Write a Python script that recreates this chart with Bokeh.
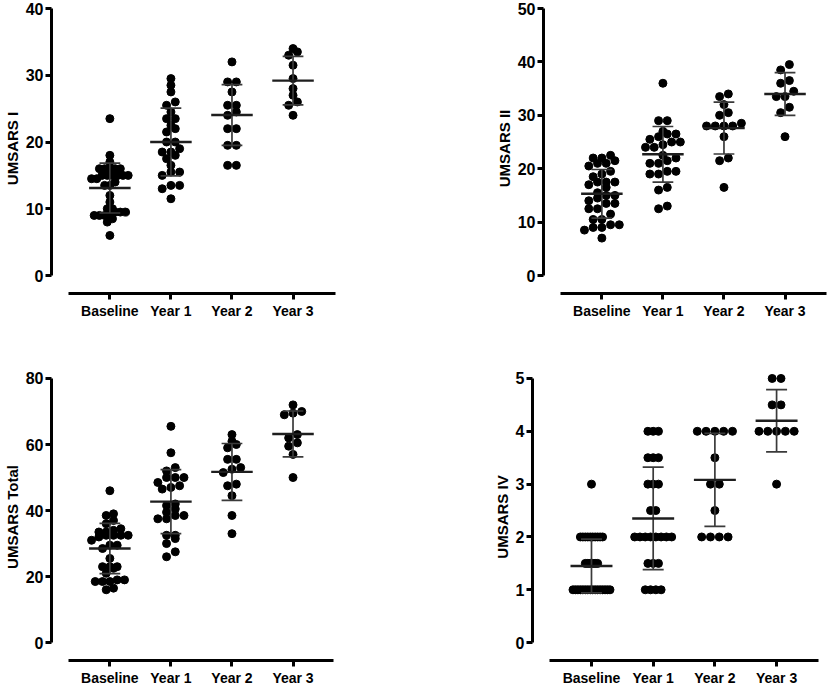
import numpy as np
from bokeh.plotting import figure
from bokeh.layouts import row, column
from bokeh.models import FixedTicker
from bokeh.embed import file_html
from bokeh.resources import INLINE

# ---------------- data ----------------
categories = ["Baseline", "Year 1", "Year 2", "Year 3"]

umsars1_baseline = [23.5, 18, 17, 16, 16, 16, 16, 16, 15, 15, 15, 15, 15, 15, 14.5, 14.5, 14,
                    13.5, 13.5, 12, 11, 10, 10, 9.5, 9.5, 9.5, 9, 9, 9, 9, 8.5, 8, 6]
umsars1_year1 = [29.5, 28.5, 27.5, 26, 25.5, 24.5, 23.5, 23.5, 22.5, 22, 21.5, 20, 20, 19, 18.5,
                 18.5, 18, 17.5, 16.5, 15.5, 15.5, 15, 13.5, 13.5, 13, 11.5]
umsars1_year2 = [32, 29, 29, 27.5, 25.5, 25.5, 24.5, 24, 22, 22, 19.5, 19.5, 16.5, 16.5]
umsars1_year3 = [34, 33.5, 33, 31.5, 29.5, 28, 27, 26, 25.5, 24]
umsars1_mean = [13.1, 20.0, 24.05, 29.2]
umsars1_sd = [3.74, 5.06, 4.55, 3.64]

umsars2_baseline = [22.5, 22, 22, 21.5, 21, 21, 20.5, 19.5, 19, 18.5, 17.5, 17.5, 17.5, 17, 16.5,
                    15.5, 15, 15, 14.5, 14, 13.5, 13.5, 12.5, 12.5, 11.5, 10.5, 10.5, 9.5, 9.5,
                    9, 9, 8.5, 7]
umsars2_year1 = [36, 29, 29, 27, 26.5, 26.5, 26, 25.5, 25, 25, 24.5, 24, 24, 22.5, 22, 21.5, 21,
                 21, 19.5, 19.5, 19, 19, 16.5, 16, 13, 12.5]
umsars2_year2 = [34, 33.5, 32, 30.5, 30, 28.5, 28, 28, 28, 28, 26, 22, 21.5, 16.5]
umsars2_year3 = [39.5, 38.5, 36.5, 36, 34.5, 33.5, 33.5, 31.5, 30.5, 26]
umsars2_mean = [15.3, 22.7, 27.6, 34.0]
umsars2_sd = [4.55, 5.2, 4.85, 4.0]

umsars_total_baseline = [46, 39, 38.5, 37, 36, 34.5, 34, 33.5, 33.5, 32.5, 32.5, 32.5, 32.5, 32,
                         31, 29.5, 29.5, 28.5, 25.5, 23, 23, 23, 22.5, 21, 19, 19, 18.5, 18.5,
                         18.5, 16, 16.5]
umsars_total_year1 = [65.5, 57.5, 53, 52, 50, 50, 50, 48.5, 47.5, 47, 46.5, 42, 41.5, 40.5, 39.5,
                      38.5, 38.5, 37.5, 37.5, 32.5, 32.5, 31.5, 30, 27.5, 26]
umsars_total_year2 = [63, 61, 60, 59, 55.5, 55.5, 53, 52.5, 51.5, 48, 47.5, 44.5, 38.5, 33]
umsars_total_year3 = [72, 70, 69.5, 69, 63, 62, 60.5, 59.5, 57, 50]
umsars_total_mean = [28.5, 42.7, 51.7, 63.2]
umsars_total_sd = [7.6, 9.7, 8.6, 6.95]

umsars4_baseline = [3, 2, 2, 2, 2, 2, 2, 2, 2, 2, 2, 1.5, 1.5, 1.5, 1.5, 1.5, 1.5,
                    1, 1, 1, 1, 1, 1, 1, 1, 1, 1, 1, 1, 1, 1, 1, 1]
umsars4_year1 = [4, 4, 4, 3.5, 3.5, 3.5, 3, 3, 3, 2.5, 2.5, 2, 2, 2, 2, 2, 2, 2, 2,
                 1.5, 1.5, 1.5, 1, 1, 1, 1]
umsars4_year2 = [4, 4, 4, 4, 4, 3.5, 3, 3, 2.5, 2, 2, 2, 2]
umsars4_year3 = [5, 5, 4.5, 4.5, 4, 4, 4, 4, 4, 3]
umsars4_mean = [1.45, 2.35, 3.08, 4.2]
umsars4_sd = [0.51, 0.97, 0.88, 0.59]

y1_ticks = [0, 10, 20, 30, 40]
y2_ticks = [0, 10, 20, 30, 40, 50]
y3_ticks = [0, 20, 40, 60, 80]
y4_ticks = [0, 1, 2, 3, 4, 5]

# ---------------- styling / layout ----------------
FONT = "Liberation Sans"
PXX = 61.7          # pixels per category step
X_START = -0.956
AXIS_X_START = -0.68
GAP_PX = 18         # gap between y=0 and x-axis line
PAD_PX = 5          # room above top tick so top dots are not clipped


def swarm_offsets(values, ppu_y, row_px=6.5, max_w=37.0, nat=8.8):
    vals = np.asarray(values, float)
    order = np.argsort(vals, kind="stable")
    rows, cur, start = [], [], None
    for i in order:
        v = vals[i]
        if start is None or (v - start) * ppu_y >= row_px:
            if cur:
                rows.append(cur)
            cur, start = [i], v
        else:
            cur.append(i)
    if cur:
        rows.append(cur)
    kmax = max(len(r) for r in rows)
    s = nat if kmax <= 1 else min(nat, max_w / (kmax - 1))
    off = np.zeros(len(vals))
    for r in rows:
        k = len(r)
        for j, i in enumerate(r):
            off[i] = (j - (k - 1) / 2) * s / PXX
    return off


def make_panel(groups, means, sds, ylabel, yticks, frame_w, span_px,
               left, right, top, bottom):
    ymax = yticks[-1]
    ppu_y = span_px / ymax
    y_start = -GAP_PX / ppu_y
    y_end = ymax + PAD_PX / ppu_y
    frame_h = span_px + GAP_PX + PAD_PX
    x_end = X_START + frame_w / PXX
    p = figure(width=left + frame_w + right, height=top + frame_h + bottom,
               x_range=(X_START, x_end), y_range=(y_start, y_end),
               output_backend="svg", toolbar_location=None,
               min_border_left=left, min_border_right=right,
               min_border_top=top, min_border_bottom=bottom)
    p.outline_line_color = None
    p.xgrid.visible = False
    p.ygrid.visible = False
    p.background_fill_color = "white"
    p.border_fill_color = "white"

    for i, vals in enumerate(groups):
        off = swarm_offsets(vals, ppu_y)
        xs = i + off
        p.scatter(x=xs, y=vals, size=8, fill_color="black", line_color="black")

    idx = np.arange(len(categories))
    m = np.asarray(means)
    s = np.asarray(sds)
    # SD whiskers
    p.segment(x0=idx, x1=idx, y0=m - s, y1=m + s, line_color="#3a3a3a", line_width=1.7)
    p.segment(x0=idx - 0.17, x1=idx + 0.17, y0=m + s, y1=m + s, line_color="#3a3a3a", line_width=1.7)
    p.segment(x0=idx - 0.17, x1=idx + 0.17, y0=m - s, y1=m - s, line_color="#3a3a3a", line_width=1.7)
    # mean
    p.segment(x0=idx - 0.34, x1=idx + 0.34, y0=m, y1=m, line_color="#1e1e1e", line_width=2.4)

    for ax in (p.xaxis[0], p.yaxis[0]):
        ax.axis_line_width = 3
        ax.axis_line_color = "black"
        ax.major_tick_line_width = 3
        ax.major_tick_line_color = "black"
        ax.major_tick_in = 0
        ax.major_tick_out = 6
        ax.minor_tick_line_color = None
        ax.major_label_text_font = FONT
        ax.major_label_text_font_style = "bold"
        ax.major_label_text_color = "black"
        ax.major_label_standoff = 3
    p.xaxis.major_label_text_font_size = "14px"
    p.yaxis.major_label_text_font_size = "16px"
    p.yaxis.major_label_standoff = 2

    p.xaxis.ticker = FixedTicker(ticks=list(idx))
    p.xaxis.major_label_overrides = {int(i): c for i, c in enumerate(categories)}
    p.xaxis.bounds = (AXIS_X_START, x_end)

    p.yaxis.ticker = FixedTicker(ticks=yticks)
    p.yaxis.bounds = (0, ymax)
    p.yaxis.axis_label = ylabel
    p.yaxis.axis_label_text_font = FONT
    p.yaxis.axis_label_text_font_style = "bold"
    p.yaxis.axis_label_text_font_size = "15px"
    p.yaxis.axis_label_text_color = "black"
    p.yaxis.axis_label_standoff = 2
    return p


p1 = make_panel([umsars1_baseline, umsars1_year1, umsars1_year2, umsars1_year3],
                umsars1_mean, umsars1_sd, "UMSARS I", y1_ticks,
                frame_w=287, span_px=267, left=48, right=157, top=3, bottom=30)
p2 = make_panel([umsars2_baseline, umsars2_year1, umsars2_year2, umsars2_year3],
                umsars2_mean, umsars2_sd, "UMSARS II", y2_ticks,
                frame_w=286, span_px=267, left=48, right=2, top=3, bottom=30)
p3 = make_panel([umsars_total_baseline, umsars_total_year1, umsars_total_year2, umsars_total_year3],
                umsars_total_mean, umsars_total_sd, "UMSARS Total", y3_ticks,
                frame_w=285, span_px=266, left=48, right=151, top=50, bottom=26)
p4 = make_panel([umsars4_baseline, umsars4_year1, umsars4_year2, umsars4_year3],
                umsars4_mean, umsars4_sd, "UMSARS IV", y4_ticks,
                frame_w=286, span_px=266, left=48, right=10, top=50, bottom=26)

layout = column(row(p1, p2), row(p3, p4))

open("out.html", "w").write(file_html(layout, INLINE))
